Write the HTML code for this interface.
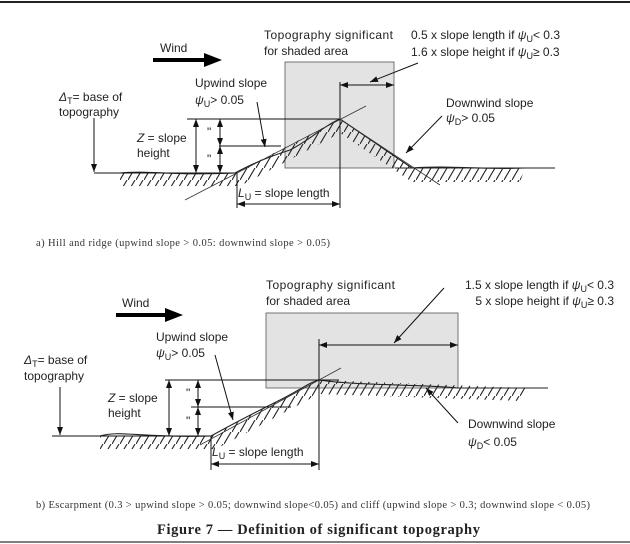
<!DOCTYPE html>
<html><head><meta charset="utf-8"><style>
html,body{margin:0;padding:0;background:#fff;}
svg{display:block;}
text{font-family:"Liberation Sans",sans-serif;font-size:12px;fill:#222;}
.s{font-family:"Liberation Serif",serif;font-size:10.5px;fill:#333;}
.t{font-family:"Liberation Serif",serif;font-size:14.5px;font-weight:bold;fill:#222;}
</style></head><body>
<svg width="630" height="544" viewBox="0 0 630 544" xmlns="http://www.w3.org/2000/svg">
<defs>
<pattern id="h" width="8" height="12" patternUnits="userSpaceOnUse">
<line x1="0" y1="12" x2="7" y2="0" stroke="#222" stroke-width="1.1"/>
</pattern>
<marker id="a" markerWidth="8" markerHeight="6" refX="8" refY="3" orient="auto" markerUnits="userSpaceOnUse"><path d="M0,0 L8,3 L0,6z" fill="#111"/></marker>
<marker id="b" markerWidth="8" markerHeight="6" refX="0" refY="3" orient="auto" markerUnits="userSpaceOnUse"><path d="M8,0 L0,3 L8,6z" fill="#111"/></marker>
</defs>
<line x1="0" y1="2" x2="630" y2="2" stroke="#222" stroke-width="2"/>
<line x1="0" y1="542" x2="630" y2="542" stroke="#555" stroke-width="1.5"/>

<!-- Panel A -->
<rect x="285" y="62" width="109" height="106" fill="#e3e3e3" stroke="#555" stroke-width="0.8"/>
<text x="160" y="52">Wind</text>
<path d="M153,58 H204 V53 L222,60 L204,67 V62 H153z" fill="#000"/>
<text x="264" y="39" textLength="129">Topography significant</text>
<text x="264" y="55">for shaded area</text>
<text x="411" y="39">0.5 x slope length if <tspan font-style="italic">ψ</tspan><tspan font-size="9" dy="3">U</tspan><tspan dy="-3">&lt; 0.3</tspan></text>
<text x="411" y="56">1.6 x slope height if <tspan font-style="italic">ψ</tspan><tspan font-size="9" dy="3">U</tspan><tspan dy="-3">≥ 0.3</tspan></text>
<line x1="418" y1="63" x2="370" y2="82" stroke="#111" marker-end="url(#a)"/>
<line x1="340" y1="85" x2="394" y2="85" stroke="#111" marker-start="url(#b)" marker-end="url(#a)"/>
<line x1="340" y1="82" x2="340" y2="208" stroke="#111"/>
<polygon points="120,173 235,173 340,119 412,168 525,168 520,182 412,182 340,133 240,186 120,186" fill="url(#h)"/>
<path d="M120,173 C150,170 170,176 235,173 C250,165 265,158 290,150 C310,140 325,125 340,119 L412,168 C450,165 480,170 525,168 L555,168" fill="none" stroke="#222" stroke-width="1.1"/>
<line x1="185" y1="200" x2="366" y2="106" stroke="#333" stroke-width="0.8"/>
<line x1="340" y1="119" x2="440" y2="185" stroke="#333" stroke-width="0.8"/>
<line x1="395" y1="168" x2="555" y2="168" stroke="#222"/>
<text x="195" y="87">Upwind slope</text>
<text x="195" y="104"><tspan font-style="italic">ψ</tspan><tspan font-size="9" dy="3">U</tspan><tspan dy="-3">&gt; 0.05</tspan></text>
<line x1="257" y1="102" x2="265" y2="147" stroke="#111" marker-end="url(#a)"/>
<text x="59" y="101"><tspan font-style="italic">Δ</tspan><tspan font-size="9" dy="3">T</tspan><tspan dy="-3">= base of</tspan></text>
<text x="59" y="116">topography</text>
<line x1="94" y1="118" x2="94" y2="172" stroke="#111" marker-end="url(#a)"/>
<line x1="94" y1="173" x2="235" y2="173" stroke="#111"/>
<line x1="187" y1="119" x2="340" y2="119" stroke="#111"/>
<line x1="219" y1="146" x2="281" y2="146" stroke="#111"/>
<line x1="196" y1="119" x2="196" y2="173" stroke="#111" marker-start="url(#b)" marker-end="url(#a)"/>
<text x="137" y="142"><tspan font-style="italic">Z</tspan> = slope</text>
<text x="137" y="157">height</text>
<line x1="220" y1="119" x2="220" y2="146" stroke="#111" marker-start="url(#b)" marker-end="url(#a)"/>
<line x1="220" y1="146" x2="220" y2="173" stroke="#111" marker-start="url(#b)" marker-end="url(#a)"/>
<text x="207" y="136" font-size="9">"</text>
<text x="207" y="163" font-size="9">"</text>
<text x="446" y="107">Downwind slope</text>
<text x="446" y="122"><tspan font-style="italic">ψ</tspan><tspan font-size="9" dy="3">D</tspan><tspan dy="-3">&gt; 0.05</tspan></text>
<line x1="442" y1="116" x2="406" y2="153" stroke="#111" marker-end="url(#a)"/>
<text x="238" y="197"><tspan font-style="italic">L</tspan><tspan font-size="9" dy="3">U</tspan><tspan dy="-3"> = slope length</tspan></text>
<line x1="237" y1="173" x2="237" y2="208" stroke="#111"/>
<line x1="237" y1="204" x2="340" y2="204" stroke="#111" marker-start="url(#b)" marker-end="url(#a)"/>
<text class="s" x="36" y="246" textLength="294">a) Hill and ridge (upwind slope &gt; 0.05: downwind slope &gt; 0.05)</text>

<!-- Panel B -->
<rect x="266" y="313" width="192" height="75" fill="#e3e3e3" stroke="#555" stroke-width="0.8"/>
<text x="122" y="307">Wind</text>
<path d="M116,313 H165 V308 L183,315 L165,322 V317 H116z" fill="#000"/>
<text x="266" y="289" textLength="129">Topography significant</text>
<text x="266" y="305">for shaded area</text>
<text x="614" y="289" text-anchor="end">1.5 x slope length if <tspan font-style="italic">ψ</tspan><tspan font-size="9" dy="3">U</tspan><tspan dy="-3">&lt; 0.3</tspan></text>
<text x="614" y="305" text-anchor="end">5 x slope height if <tspan font-style="italic">ψ</tspan><tspan font-size="9" dy="3">U</tspan><tspan dy="-3">≥ 0.3</tspan></text>
<line x1="444" y1="288" x2="394" y2="343" stroke="#111" marker-end="url(#a)"/>
<line x1="319" y1="345" x2="458" y2="345" stroke="#111" marker-start="url(#b)" marker-end="url(#a)"/>
<line x1="319" y1="339" x2="319" y2="470" stroke="#111"/>
<polygon points="100,436 211,436 319,380 526,388 522,401 319,394 216,449 100,449" fill="url(#h)"/>
<path d="M100,436 C120,430 140,438 211,436 C240,420 260,410 280,400 C300,390 310,382 319,380 C360,386 420,384 458,388 L548,388" fill="none" stroke="#222" stroke-width="1.1"/>
<line x1="200" y1="445" x2="341" y2="368" stroke="#333" stroke-width="0.8"/>
<text x="156" y="341">Upwind slope</text>
<text x="156" y="357"><tspan font-style="italic">ψ</tspan><tspan font-size="9" dy="3">U</tspan><tspan dy="-3">&gt; 0.05</tspan></text>
<line x1="215" y1="355" x2="233" y2="420" stroke="#111" marker-end="url(#a)"/>
<text x="24" y="364"><tspan font-style="italic">Δ</tspan><tspan font-size="9" dy="3">T</tspan><tspan dy="-3">= base of</tspan></text>
<text x="24" y="380">topography</text>
<line x1="60" y1="387" x2="60" y2="435" stroke="#111" marker-end="url(#a)"/>
<line x1="52" y1="436" x2="211" y2="436" stroke="#111"/>
<line x1="165" y1="380" x2="339" y2="380" stroke="#111"/>
<line x1="191" y1="407" x2="291" y2="407" stroke="#111"/>
<line x1="169" y1="380" x2="169" y2="436" stroke="#111" marker-start="url(#b)" marker-end="url(#a)"/>
<text x="108" y="402"><tspan font-style="italic">Z</tspan> = slope</text>
<text x="108" y="417">height</text>
<line x1="198" y1="380" x2="198" y2="407" stroke="#111" marker-start="url(#b)" marker-end="url(#a)"/>
<line x1="198" y1="407" x2="198" y2="436" stroke="#111" marker-start="url(#b)" marker-end="url(#a)"/>
<text x="186" y="397" font-size="9">"</text>
<text x="186" y="425" font-size="9">"</text>
<text x="468" y="428">Downwind slope</text>
<text x="468" y="446"><tspan font-style="italic">ψ</tspan><tspan font-size="9" dy="3">D</tspan><tspan dy="-3">&lt; 0.05</tspan></text>
<line x1="458" y1="423" x2="426" y2="388" stroke="#111" marker-end="url(#a)"/>
<text x="212" y="456"><tspan font-style="italic">L</tspan><tspan font-size="9" dy="3">U</tspan><tspan dy="-3"> = slope length</tspan></text>
<line x1="211" y1="436" x2="211" y2="470" stroke="#111"/>
<line x1="211" y1="464" x2="319" y2="464" stroke="#111" marker-start="url(#b)" marker-end="url(#a)"/>
<text class="s" x="36" y="508" textLength="554">b) Escarpment (0.3 &gt; upwind slope &gt; 0.05; downwind slope&lt;0.05) and cliff (upwind slope &gt; 0.3; downwind slope &lt; 0.05)</text>
<text class="t" x="157" y="534" textLength="323">Figure 7 — Definition of significant topography</text>
</svg>
</body></html>
